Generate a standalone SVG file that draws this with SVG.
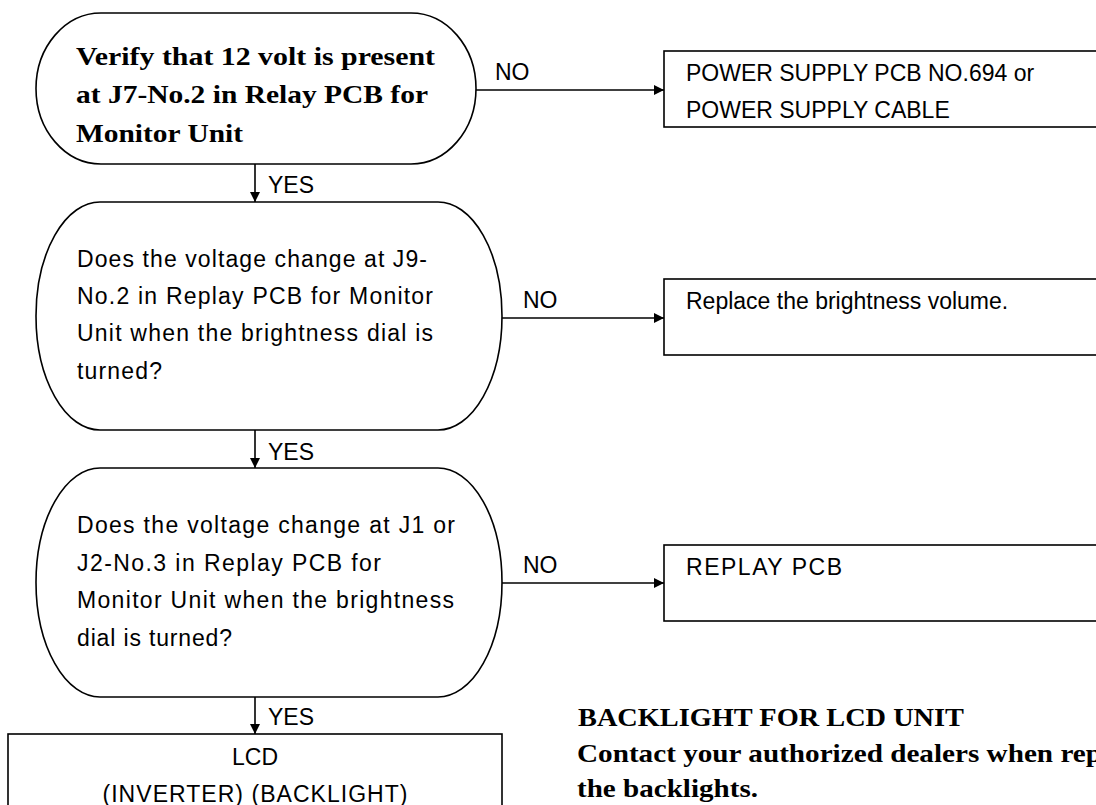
<svg xmlns="http://www.w3.org/2000/svg" width="1096" height="805" viewBox="0 0 1096 805">
<style>
.shape{fill:#fff;stroke:#000;stroke-width:1.6}
.sans{font-family:"Liberation Sans",Arial,sans-serif;font-size:23px;fill:#000}
.serif{font-family:"Liberation Serif","Times New Roman",serif;font-size:26px;font-weight:bold;fill:#000}
.conn{stroke:#000;stroke-width:1.6;fill:none}
</style>
<defs>
<marker id="arr" viewBox="0 0 10 10" refX="10" refY="5" markerWidth="10" markerHeight="10" markerUnits="userSpaceOnUse" orient="auto">
<path d="M0,0 L10,5 L0,10 z" fill="#000"/>
</marker>
</defs>
<rect width="1096" height="805" fill="#fff"/>
<g id="n1">
<rect class="shape" x="36" y="13" width="440" height="151" rx="65" ry="75.5"/>
<text class="serif" x="76" y="65" textLength="359" lengthAdjust="spacingAndGlyphs">Verify that 12 volt is present</text>
<text class="serif" x="76" y="103" textLength="352" lengthAdjust="spacingAndGlyphs">at J7-No.2 in Relay PCB for</text>
<text class="serif" x="76" y="142" textLength="167" lengthAdjust="spacingAndGlyphs">Monitor Unit</text>
</g>
<g id="n2">
<rect class="shape" x="36" y="202" width="466" height="228" rx="64" ry="114"/>
<text class="sans" x="77" y="267" textLength="350" lengthAdjust="spacing">Does the voltage change at J9-</text>
<text class="sans" x="77" y="304" textLength="356" lengthAdjust="spacing">No.2 in Replay PCB for Monitor</text>
<text class="sans" x="77" y="341" textLength="356" lengthAdjust="spacing">Unit when the brightness dial is</text>
<text class="sans" x="77" y="379" textLength="85" lengthAdjust="spacing">turned?</text>
</g>
<g id="n3">
<rect class="shape" x="36" y="468" width="466" height="229" rx="64" ry="114.5"/>
<text class="sans" x="77" y="533" textLength="378" lengthAdjust="spacing">Does the voltage change at J1 or</text>
<text class="sans" x="77" y="571" textLength="304" lengthAdjust="spacing">J2-No.3 in Replay PCB for</text>
<text class="sans" x="77" y="608" textLength="377" lengthAdjust="spacing">Monitor Unit when the brightness</text>
<text class="sans" x="77" y="646" textLength="155" lengthAdjust="spacing">dial is turned?</text>
</g>
<g id="n4">
<rect class="shape" x="8" y="734" width="494" height="90"/>
<text class="sans" x="255" y="765" text-anchor="middle">LCD</text>
<text class="sans" x="255" y="802" text-anchor="middle" textLength="305" lengthAdjust="spacing">(INVERTER) (BACKLIGHT)</text>
</g>
<g id="r1">
<rect class="shape" x="664" y="51" width="460" height="76"/>
<text class="sans" x="686" y="81">POWER SUPPLY PCB NO.694 or</text>
<text class="sans" x="686" y="118">POWER SUPPLY CABLE</text>
</g>
<g id="r2">
<rect class="shape" x="664" y="279" width="460" height="76"/>
<text class="sans" x="686" y="309">Replace the brightness volume.</text>
</g>
<g id="r3">
<rect class="shape" x="664" y="545" width="460" height="76"/>
<text class="sans" x="686" y="575" textLength="156" lengthAdjust="spacing">REPLAY PCB</text>
</g>
<g id="note">
<text class="serif" x="578" y="726" textLength="386" lengthAdjust="spacingAndGlyphs">BACKLIGHT FOR LCD UNIT</text>
<text class="serif" x="577" y="762" textLength="525" lengthAdjust="spacingAndGlyphs">Contact your authorized dealers when rep</text>
<text class="serif" x="577" y="797" textLength="181" lengthAdjust="spacingAndGlyphs">the backlights.</text>
</g>
<g id="connectors">
<line class="conn" x1="255" y1="164" x2="255" y2="202" marker-end="url(#arr)"/>
<line class="conn" x1="255" y1="430" x2="255" y2="468" marker-end="url(#arr)"/>
<line class="conn" x1="255" y1="697" x2="255" y2="734" marker-end="url(#arr)"/>
<line class="conn" x1="476" y1="90" x2="664" y2="90" marker-end="url(#arr)"/>
<line class="conn" x1="502" y1="318" x2="664" y2="318" marker-end="url(#arr)"/>
<line class="conn" x1="502" y1="583" x2="664" y2="583" marker-end="url(#arr)"/>
<text class="sans" x="268" y="193">YES</text>
<text class="sans" x="268" y="460">YES</text>
<text class="sans" x="268" y="725">YES</text>
<text class="sans" x="495" y="80">NO</text>
<text class="sans" x="523" y="308">NO</text>
<text class="sans" x="523" y="573">NO</text>
</g>
</svg>
